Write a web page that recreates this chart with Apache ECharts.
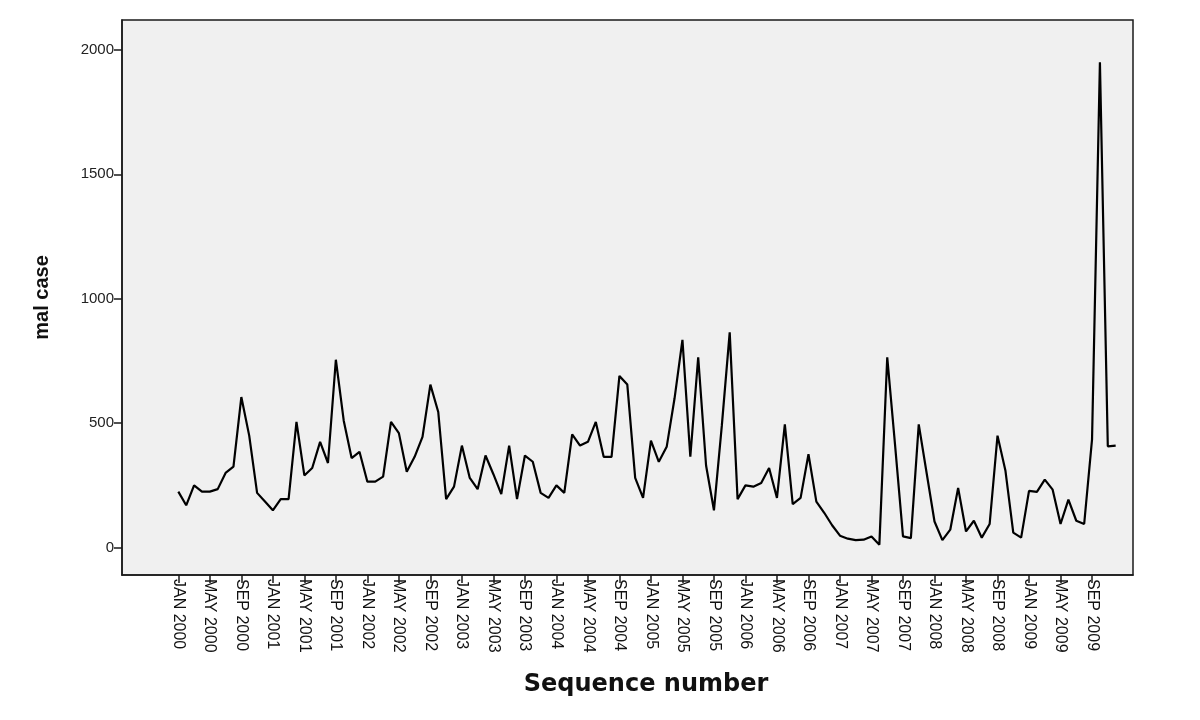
<!DOCTYPE html>
<html>
<head>
<meta charset="utf-8">
<script src="https://cdn.jsdelivr.net/npm/echarts@6/dist/echarts.min.js"></script>
<style>
html,body{margin:0;padding:0;background:#fff;}
#chart{width:1200px;height:720px;}
</style>
</head>
<body>
<div id="chart"></div>
<script>
// Monthly malaria cases, JAN 2000 .. DEC 2009
const monthNames = ['JAN','FEB','MAR','APR','MAY','JUN','JUL','AUG','SEP','OCT','NOV','DEC'];
const years = [2000,2001,2002,2003,2004,2005,2006,2007,2008,2009];
const cases2000 = [225,170,250,225,225,235,300,325,605,450,220,185];
const cases2001 = [150,195,195,505,290,320,425,340,755,510,360,385];
const cases2002 = [265,265,285,505,460,305,365,445,655,545,195,245];
const cases2003 = [410,280,235,370,295,215,410,195,370,345,220,200];
const cases2004 = [250,220,455,410,425,505,365,365,690,655,280,200];
const cases2005 = [430,345,405,600,835,365,765,330,150,490,865,195];
const cases2006 = [250,245,260,320,200,495,175,200,375,185,140,90];
const cases2007 = [48,36,30,32,45,12,765,410,45,38,495,300];
const cases2008 = [105,30,72,240,65,108,40,95,450,310,60,40];
const cases2009 = [228,224,273,233,95,193,108,95,435,1950,407,410];
const yTicks = [0,500,1000,1500,2000];
const xTickLabels = ['JAN 2000','MAY 2000','SEP 2000','JAN 2001','MAY 2001','SEP 2001',
  'JAN 2002','MAY 2002','SEP 2002','JAN 2003','MAY 2003','SEP 2003',
  'JAN 2004','MAY 2004','SEP 2004','JAN 2005','MAY 2005','SEP 2005',
  'JAN 2006','MAY 2006','SEP 2006','JAN 2007','MAY 2007','SEP 2007',
  'JAN 2008','MAY 2008','SEP 2008','JAN 2009','MAY 2009','SEP 2009'];

const categories = [];
years.forEach(y => monthNames.forEach(m => categories.push(m + ' ' + y)));
const cases = [].concat(cases2000,cases2001,cases2002,cases2003,cases2004,
                        cases2005,cases2006,cases2007,cases2008,cases2009);
const seriesData = cases.map((v,i) => [i, v]);
const xTickIdx = xTickLabels.map(l => categories.indexOf(l));

const chart = echarts.init(document.getElementById('chart'), null, {renderer:'canvas'});
chart.setOption({
  animation: false,
  backgroundColor: '#ffffff',
  grid: {
    left: 122, right: 67, top: 20, bottom: 145,
    show: true, backgroundColor: '#f0f0f0', borderColor: '#1a1a1a', borderWidth: 1.5
  },
  graphic: [{
    type: 'text',
    x: 646, y: 685,
    style: {
      text: 'Sequence number',
      align: 'center', verticalAlign: 'middle',
      font: 'bold 24px "DejaVu Sans"',
      fill: '#111'
    }
  }],
  xAxis: {
    type: 'value',
    min: -7.15, max: 121.2,
    splitLine: {show: false},
    axisLine: {show: true, onZero: false, lineStyle: {color: '#1a1a1a', width: 1.5}},
    axisTick: {show: true, customValues: xTickIdx, length: 8, lineStyle: {color: '#1a1a1a', width: 1.5}},
    axisLabel: {
      customValues: xTickIdx,
      rotate: -90,
      margin: 4,
      fontFamily: 'Liberation Sans', fontSize: 16, color: '#111',
      formatter: v => categories[Math.round(v)] || ''
    }
  },
  yAxis: {
    type: 'value',
    min: -110, max: 2120,
    name: 'mal case',
    nameLocation: 'middle',
    nameRotate: 90,
    nameGap: 70,
    nameTextStyle: {fontFamily: 'Liberation Sans', fontWeight: 'bold', fontSize: 20, color: '#111'},
    splitLine: {show: false},
    axisLine: {show: true, onZero: false, lineStyle: {color: '#1a1a1a', width: 1.5}},
    axisTick: {show: true, customValues: yTicks, length: 8, lineStyle: {color: '#1a1a1a', width: 1.5}},
    axisLabel: {
      customValues: yTicks,
      margin: 8,
      fontFamily: 'Liberation Sans', fontSize: 15, color: '#222',
      formatter: v => String(v)
    }
  },
  series: [{
    type: 'line',
    data: seriesData,
    showSymbol: false,
    lineStyle: {color: '#000', width: 2.2},
    silent: true
  }]
});
</script>
</body>
</html>
